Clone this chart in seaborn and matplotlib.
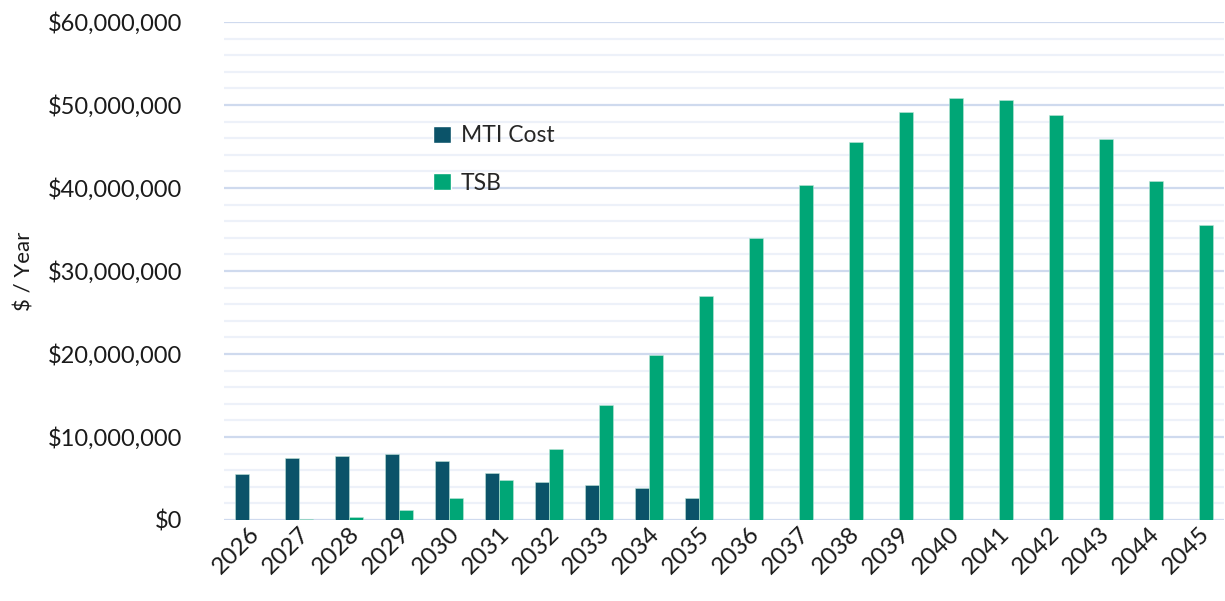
import pandas as pd
import numpy as np
import matplotlib.pyplot as plt
import seaborn as sns
from matplotlib.ticker import FuncFormatter, MultipleLocator
from matplotlib.patches import Patch

# -----------------------------
# Data
# -----------------------------
years = [str(y) for y in range(2026, 2046)]
mti_cost = [5.6, 7.5, 7.7, 7.9, 7.1, 5.7, 4.6, 4.2, 3.85, 2.6,
            0.05, 0.05, 0.05, 0.05, 0.05, 0.05, 0.05, 0.05, 0.0, 0.0]
tsb = [0.0, 0.16, 0.4, 1.2, 2.6, 4.85, 8.6, 13.9, 19.9, 27.0,
       34.0, 40.4, 45.6, 49.1, 50.8, 50.6, 48.8, 45.9, 40.8, 35.6]
series = ["MTI Cost", "TSB"]
colors = ["#0B5369", "#00A676"]

df = pd.DataFrame({
    "Year": years * 2,
    "Series": [series[0]] * len(years) + [series[1]] * len(years),
    "Value": [v * 1e6 for v in mti_cost + tsb],
})

# -----------------------------
# Plot
# -----------------------------
sns.set_style("white")
plt.rcParams["font.family"] = ["Lato", "DejaVu Sans"]

fig = plt.figure(figsize=(12.25, 6.01), dpi=100)
ax = fig.add_axes([0.183, 0.1348, 0.8162, 0.8286])

sns.barplot(data=df, x="Year", y="Value", hue="Series", palette=colors,
            saturation=1, width=0.56, edgecolor="#BFE5D8", linewidth=0.4,
            ax=ax, legend=False)

ax.set_ylim(0, 60e6)
ax.set_xlim(-0.5, len(years) - 0.5)
ax.yaxis.set_major_locator(MultipleLocator(10e6))
ax.yaxis.set_minor_locator(MultipleLocator(2e6))
ax.yaxis.set_major_formatter(FuncFormatter(lambda v, p: f"${v:,.0f}"))

ax.grid(axis="y", which="major", color="#CFDAEE", linewidth=1.6)
ax.grid(axis="y", which="minor", color="#EDF1F9", linewidth=1.6)
ax.set_axisbelow(True)
for s in ax.spines.values():
    s.set_visible(False)

ax.tick_params(axis="y", which="both", length=0, labelsize=17, pad=30, colors="#1a1a1a")
ax.tick_params(axis="x", length=0, labelsize=17.5, pad=2, colors="#1a1a1a")
plt.setp(ax.get_xticklabels(), rotation=45, ha="right", rotation_mode="anchor")

ax.set_xlabel("")
ax.set_ylabel("$ / Year", fontsize=16, color="#1a1a1a")
ax.yaxis.set_label_coords(-0.19, 0.5)

handles = [Patch(facecolor=c, label=l) for c, l in zip(colors, series)]
fig.legend(handles=handles, loc="upper left", bbox_to_anchor=(0.337, 0.826),
           frameon=False, fontsize=16.5, handlelength=0.75, handleheight=0.75,
           handletextpad=0.45, labelspacing=1.15)

fig.savefig("out.png", dpi=100)
